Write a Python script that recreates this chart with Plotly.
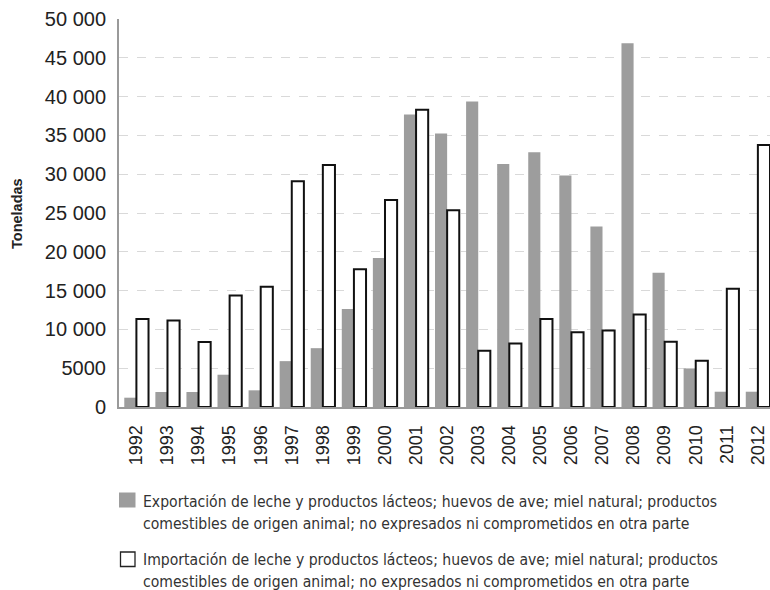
import plotly.graph_objects as go

years = [str(y) for y in range(1992, 2013)]
exportacion = [1200, 1930, 1930, 4160, 2150, 5910, 7580, 12640, 19190, 37700, 35260,
               39370, 31320, 32820, 29820, 23260, 46870, 17310, 4970, 1970, 1970]
importacion = [11330, 11160, 8370, 14380, 15500, 29090, 31190, 17740, 26690, 38300, 25360,
               7240, 8180, 11350, 9640, 9850, 11910, 8400, 5960, 15250, 33760]
tick_vals = [0, 5000, 10000, 15000, 20000, 25000, 30000, 35000, 40000, 45000, 50000]
tick_text = ["0", "5000", "10 000", "15 000", "20 000", "25 000", "30 000",
             "35 000", "40 000", "45 000", "50 000"]

legend_exp = ["Exportación de leche y productos lácteos; huevos de ave; miel natural; productos",
              "comestibles de origen animal; no expresados ni comprometidos en otra parte"]
legend_imp = ["Importación de leche y productos lácteos; huevos de ave; miel natural; productos",
              "comestibles de origen animal; no expresados ni comprometidos en otra parte"]

W, H = 770, 590
L, R, T, B = 119, 0, 19, 183
PH = H - T - B  # plot height in px

narrow = "DejaVu Sans Condensed, Liberation Sans Narrow, Arial Narrow, sans-serif"
sans = "Liberation Sans, Arial, sans-serif"

fig = go.Figure()
fig.add_trace(go.Bar(x=years, y=exportacion, name=legend_exp[0],
                     marker=dict(color="#9d9d9d", line=dict(width=0)), showlegend=False))
fig.add_trace(go.Bar(x=years, y=importacion, name=legend_imp[0],
                     marker=dict(color="#ffffff", line=dict(color="#111111", width=2)),
                     showlegend=False))


def py(pix):
    """convert pixel y (from top of page) to paper y"""
    return (H - B - pix) / PH


def px(pix):
    return (pix - L) / (W - L - R)


shapes = [
    dict(type="rect", xref="paper", yref="paper",
         x0=px(119), x1=px(135.5), y0=py(507.5), y1=py(492.5),
         fillcolor="#9d9d9d", line=dict(width=0)),
    dict(type="rect", xref="paper", yref="paper",
         x0=px(120.5), x1=px(135), y0=py(566.5), y1=py(552),
         fillcolor="#ffffff", line=dict(width=1.3, color="#222222")),
]

annotations = []
for txt, ypix in [(legend_exp[0], 501.5), (legend_exp[1], 523.5),
                  (legend_imp[0], 560), (legend_imp[1], 582)]:
    annotations.append(dict(text=txt, xref="paper", yref="paper", x=px(141), y=py(ypix),
                            xanchor="left", yanchor="middle", showarrow=False,
                            font=dict(family=narrow, size=15.6, color="#333333")))
annotations.append(dict(text="<b>Toneladas</b>", xref="paper", yref="paper",
                        x=px(17), y=py(214), xanchor="center", yanchor="middle",
                        textangle=-90, showarrow=False,
                        font=dict(family=sans, size=14.5, color="#222222")))

fig.update_layout(
    width=W, height=H,
    margin=dict(l=L, r=R, t=T, b=B, autoexpand=False),
    paper_bgcolor="white", plot_bgcolor="white",
    barmode="group", bargap=0.22, bargroupgap=0,
    showlegend=False,
    shapes=shapes, annotations=annotations,
    font=dict(family=sans, color="#222222"),
)
fig.update_xaxes(
    type="category", range=[-0.56, 20.39], tickangle=-90, automargin=False,
    tickfont=dict(family=sans, size=18, color="#222222"),
    showline=True, linecolor="#9a9a9a", linewidth=2, showgrid=False,
    ticks="", ticklabelstandoff=9,
)
fig.update_yaxes(
    range=[0, 50000], tickvals=tick_vals, ticktext=tick_text, automargin=False,
    tickfont=dict(family=sans, size=20, color="#222222"),
    showline=True, linecolor="#9a9a9a", linewidth=2,
    showgrid=True, gridcolor="#d9d9d9", gridwidth=1, griddash="dash",
    zeroline=False, ticks="", ticklabelstandoff=7,
)

fig.write_html("out.html", config={"displayModeBar": False},
               post_script="document.body.style.margin='0';document.body.style.overflow='hidden';")
